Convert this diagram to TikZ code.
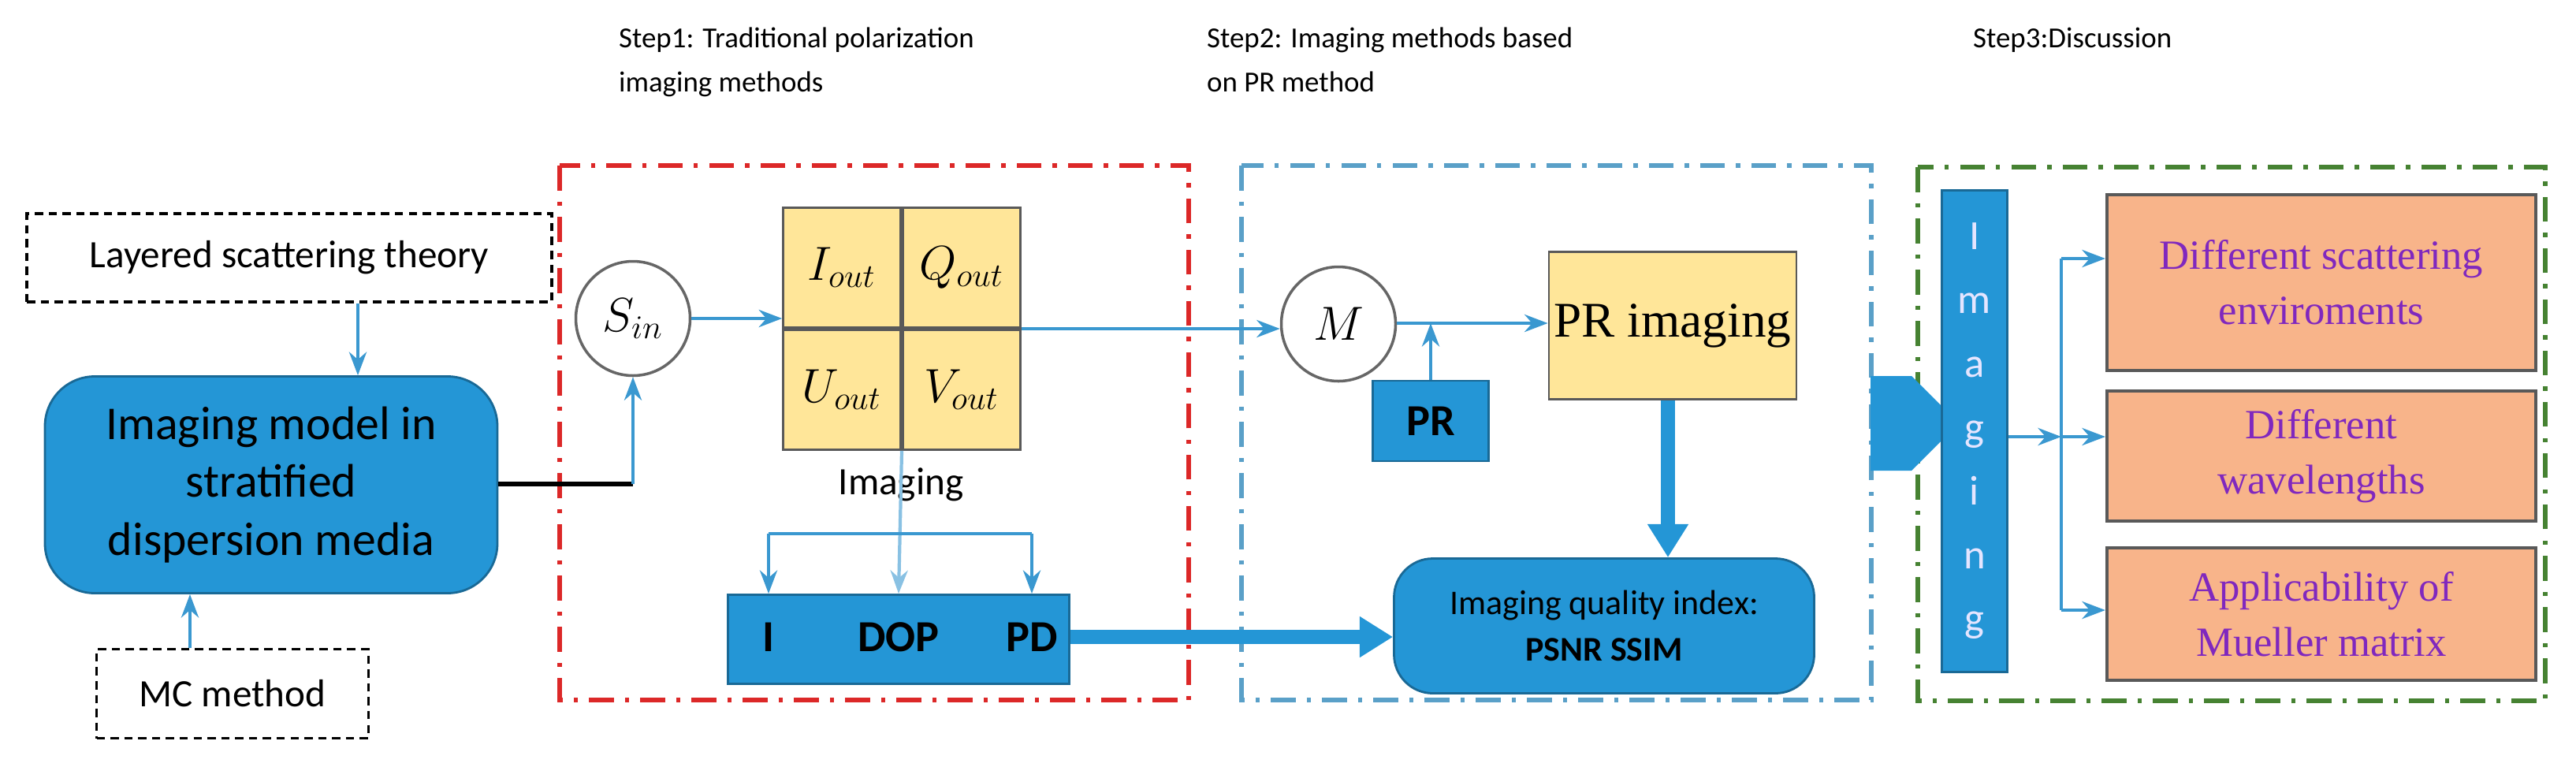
\documentclass[tikz,border=0pt]{standalone}
\usepackage{fontspec}
\setmainfont{Carlito}
\newfontfamily\timesfont{Liberation Serif}
\usetikzlibrary{arrows.meta,shapes.arrows,calc}
\definecolor{boxblue}{RGB}{36,150,214}
\definecolor{lineblue}{RGB}{58,152,208}
\definecolor{cellyellow}{RGB}{255,230,153}
\definecolor{boxorange}{RGB}{248,180,138}
\definecolor{textpurple}{RGB}{128,40,190}
\definecolor{framered}{RGB}{220,40,40}
\definecolor{frameblue}{RGB}{90,160,200}
\definecolor{framegreen}{RGB}{70,130,50}

\begin{document}
\begin{tikzpicture}[>=Stealth, thick,
    link/.style={->, lineblue, line width=1.2pt},
    fat link/.style={-{Triangle[width=14pt,length=12pt]}, boxblue, line width=5pt},
    frame/.style={line width=1.6pt, dash pattern=on 9pt off 4pt on 1.5pt off 4pt},
    dash box/.style={draw, densely dashed, line width=1pt, inner sep=0pt, font=\fontsize{14}{16}\selectfont},
    blue box/.style={draw=boxblue!70!black, fill=boxblue, inner sep=0pt, align=center},
    cell/.style={draw=gray!70!black, fill=cellyellow, minimum width=1.49cm, minimum height=1.52cm, inner sep=0pt, font=\fontsize{17}{19}\selectfont},
    orange box/.style={draw=gray!70!black, line width=1.2pt, fill=boxorange, minimum width=5.44cm, inner sep=0pt, align=center, text=textpurple, font=\timesfont\fontsize{15}{20}\selectfont},
    ring/.style={circle, draw=gray!80!black, line width=1pt, minimum size=1.45cm, inner sep=0pt, font=\fontsize{17}{19}\selectfont}]

\useasboundingbox (0,0) rectangle (32.68,-9.72);

% step titles
\node[anchor=north west, align=left, font=\fontsize{10.5}{16}\selectfont] (t1) at (7.72,-0.22) {Step1: Traditional polarization\\imaging methods};
\node[anchor=north west, align=left, font=\fontsize{10.5}{16}\selectfont] (t2) at (15.18,-0.22) {Step2: Imaging methods based\\on PR method};
\node[anchor=north west, font=\fontsize{10.5}{16}\selectfont] (t3) at (24.9,-0.22) {Step3:Discussion};

% frames
\draw[frame, framered] (7.10,-2.10) rectangle (15.08,-8.88);
\draw[frame, frameblue] (15.75,-2.10) rectangle (23.74,-8.88);
\draw[frame, framegreen] (24.33,-2.12) rectangle (32.29,-8.89);

% left part
\node[dash box, minimum width=6.66cm, minimum height=1.12cm] (theory) at (3.67,-3.27) {Layered scattering theory};
\node[blue box, rounded corners=18pt, minimum width=5.74cm, minimum height=2.75cm, font=\fontsize{17}{21}\selectfont] (model) at (3.44,-6.15) {Imaging model in\\stratified\\dispersion media};
\node[dash box, minimum width=3.45cm, minimum height=1.13cm] (mc) at (2.95,-8.80) {MC method};
\draw[link] (theory.south -| 4.54,0) -- (model.north -| 4.54,0);
\draw[link] (mc.north -| 2.41,0) -- (model.south -| 2.41,0);

% step 1
\node[ring] (sin) at (8.03,-4.04) {$S_{in}$};
\node[cell, anchor=south east] (iout) at (11.44,-4.17) {$I_{out}$};
\node[cell, anchor=south west] (qout) at (11.44,-4.17) {$Q_{out}$};
\node[cell, anchor=north east] (uout) at (11.44,-4.17) {$U_{out}$};
\node[cell, anchor=north west] (vout) at (11.44,-4.17) {$V_{out}$};
\coordinate (bend) at (8.03,-6.14);
\draw[black, line width=1.6pt] (model.east |- bend) -- (bend);
\draw[link] (bend) -- (sin.south);
\draw[link] (sin) -- (sin -| iout.west);

\node[font=\fontsize{14}{16}\selectfont] (imgtext) at (11.43,-6.15) {Imaging};
\node[blue box, minimum width=4.33cm, minimum height=1.13cm, anchor=north west] (stokes) at (9.22,-7.53) {};
\node[font=\bfseries\fontsize{16}{18}\selectfont] (lI) at (9.75,-8.08) {I};
\node[font=\bfseries\fontsize{16}{18}\selectfont] (lDOP) at (11.40,-8.08) {DOP};
\node[font=\bfseries\fontsize{16}{18}\selectfont] (lPD) at (13.09,-8.08) {PD};
\coordinate (split) at (11.40,-6.77);
\draw[link, lineblue!60] (uout.south east) -- (stokes.north -| split);
\draw[lineblue, line width=1.2pt] (9.75,-6.77) -- (13.09,-6.77);
\draw[link] (9.75,-6.77) -- (stokes.north -| lI);
\draw[link] (13.09,-6.77) -- (stokes.north -| lPD);

% step 2
\node[ring] (M) at (16.98,-4.11) {$M$};
\draw[link] (qout.south east) -- (M.west |- qout.south east);
\node[draw=gray!70!black, fill=cellyellow, minimum width=3.14cm, minimum height=1.87cm, inner sep=0pt, font=\timesfont\fontsize{18}{20}\selectfont] (primg) at (21.22,-4.13) {PR imaging};
\draw[link] (M.east |- 0,-4.10) -- (primg.west |- 0,-4.10);
\node[blue box, minimum width=1.47cm, minimum height=1.02cm, font=\bfseries\fontsize{16}{18}\selectfont] (pr) at (18.15,-5.34) {PR};
\draw[link] (pr.north) -- (18.15,-4.10);
\node[blue box, rounded corners=14pt, minimum width=5.33cm, minimum height=1.71cm, font=\fontsize{12.5}{17}\selectfont] (quality) at (20.35,-7.94) {Imaging quality index:\\\textbf{PSNR SSIM}};
\draw[fat link] (primg.south -| 21.16,0) -- (quality.north -| 21.16,0);
\draw[fat link] (stokes.east |- 0,-8.08) -- (quality.west |- 0,-8.08);

% step 3
\node[single arrow, fill=boxblue, draw=none, minimum width=1.2cm, single arrow head extend=0.0cm, single arrow tip angle=90, minimum height=1.12cm, inner sep=0pt] (step) at (23.99,-5.37) {};
\node[blue box, minimum width=0.83cm, minimum height=6.11cm, text=blue!10, font=\fontsize{15}{23}\selectfont] (bar) at (25.05,-5.47) {I\\m\\a\\g\\i\\n\\g};
\node[orange box, minimum height=2.23cm] (env) at (29.45,-3.585) {Different scattering\\enviroments};
\node[orange box, minimum height=1.65cm] (wave) at (29.45,-5.785) {Different\\wavelengths};
\node[orange box, minimum height=1.68cm] (mueller) at (29.45,-7.79) {Applicability of\\Mueller matrix};
\coordinate (fork) at (26.15,-5.54);
\draw[link] (bar.east |- fork) -- (fork);
\draw[lineblue, line width=1.2pt] (26.15,-3.28) -- (26.15,-7.74);
\draw[link] (26.15,-3.28) -- (env.west |- 0,-3.28);
\draw[link] (fork) -- (wave.west |- fork);
\draw[link] (26.15,-7.74) -- (mueller.west |- 0,-7.74);
\end{tikzpicture}
\end{document}
